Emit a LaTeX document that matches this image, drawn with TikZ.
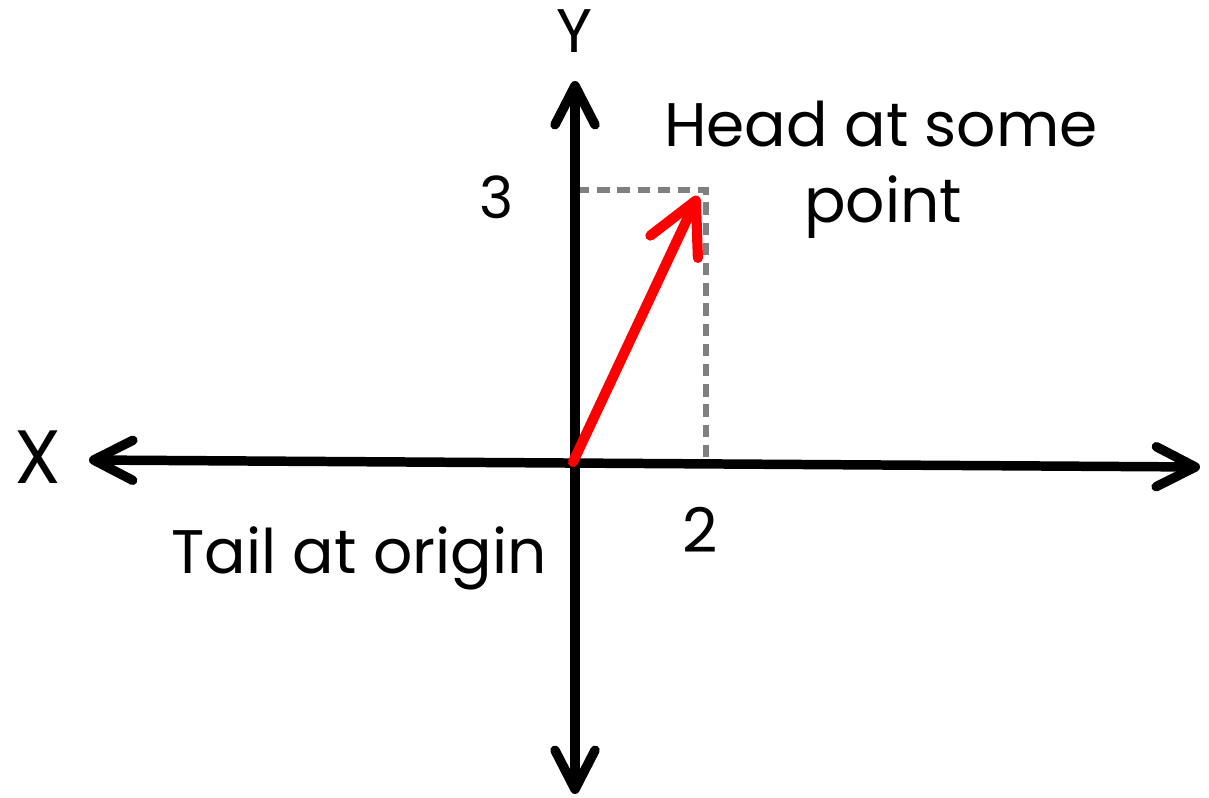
\documentclass[tikz,border=0pt]{standalone}
\usepackage{fontspec}
\setmainfont{Poppins}
\usetikzlibrary{arrows.meta}
\tikzset{
  axisline/.style={line width=5.4pt, black, line cap=round,
    {Straight Barb[length=0.78cm,width=0.8cm,line cap=round,round]}-{Straight Barb[length=0.78cm,width=0.8cm,line cap=round,round]}},
  vecline/.style={line width=5.8pt, red, line cap=round,
    -{Straight Barb[length=1.02cm,width=1.05cm,line cap=round,round]}},
  guide/.style={line width=3.4pt, color={rgb,255:red,128;green,128;blue,128}, dash pattern=on 7pt off 4.5pt},
  lbl/.style={inner sep=0pt, anchor=base, font=\fontsize{35}{42}\selectfont}
}
\begin{document}
\begin{tikzpicture}[x=0.02cm,y=-0.02cm]
\useasboundingbox (0,0) rectangle (1209,797);
% coordinates
\coordinate (O) at (573,462);
\coordinate (xl) at (89,460);
\coordinate (xr) at (1200,467);
\coordinate (yt) at (575,81);
\coordinate (yb) at (575,794);
\coordinate (P) at (698,196);
\coordinate (gy) at (577,190);
\coordinate (gc) at (706,190);
\coordinate (gx) at (706,461);
% guides
\draw[guide] (gy) -- (gc) -- (gx);
% axes
\draw[axisline] (xl) -- (xr);
\draw[axisline] (yb) -- (yt);
% vector
\draw[vecline] (O) -- (P);
% labels
\node[lbl] (head) at (881,147) {Head at some};
\node[lbl] (point) at (883,222) {point};
\node[lbl] (tail) at (359,573) {Tail at origin};
\node[lbl] (ylab) at (574,53) {Y};
\node[lbl, font=\fontsize{43}{50}\selectfont] (xlab) at (38,483) {X};
\node[lbl, font=\fontsize{33}{40}\selectfont] (three) at (497,218) {3};
\node[lbl] (two) at (700,552) {2};
\end{tikzpicture}
\end{document}
